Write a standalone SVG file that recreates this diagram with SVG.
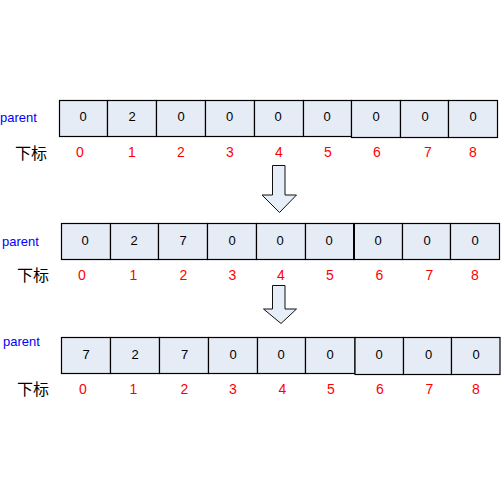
<svg xmlns="http://www.w3.org/2000/svg" width="501" height="501" viewBox="0 0 501 501">
<style>
.cell{fill:#E6ECF6;stroke:#000;stroke-width:1.2}
.v{font-family:"Liberation Sans",Arial,sans-serif;font-size:13px;fill:#000;text-anchor:middle}
.i{font-family:"Liberation Sans",Arial,sans-serif;font-size:14px;fill:#FF0000;text-anchor:middle}
.p{font-family:"Liberation Sans",Arial,sans-serif;font-size:13px;fill:#0000FF}
.k{font-family:"Liberation Sans","Noto Sans CJK SC",sans-serif;font-size:16px;fill:#000}
.arr{fill:#E6EEF8;stroke:#111;stroke-width:1}
</style>
<rect width="501" height="501" fill="#fff"/>
<g id="row1">
<text class="p" x="0" y="121.5">parent</text>
<text class="k" x="15" y="158.5">下标</text>
<g id="r1c0"><rect class="cell" x="59.5" y="100.5" width="48" height="36"/><text class="v" x="83" y="121">0</text><text class="i" x="80" y="157">0</text></g>
<g id="r1c1"><rect class="cell" x="107.5" y="100.5" width="49" height="36"/><text class="v" x="132" y="121">2</text><text class="i" x="132" y="157">1</text></g>
<g id="r1c2"><rect class="cell" x="156.5" y="100.5" width="49" height="36"/><text class="v" x="181" y="121">0</text><text class="i" x="181" y="157">2</text></g>
<g id="r1c3"><rect class="cell" x="205.5" y="100.5" width="49" height="36"/><text class="v" x="229.5" y="121">0</text><text class="i" x="230" y="157">3</text></g>
<g id="r1c4"><rect class="cell" x="254.5" y="100.5" width="49" height="36"/><text class="v" x="278" y="121">0</text><text class="i" x="279" y="157">4</text></g>
<g id="r1c5"><rect class="cell" x="303.5" y="100.5" width="48" height="36"/><text class="v" x="327" y="121">0</text><text class="i" x="328" y="157">5</text></g>
<g id="r1c6"><rect class="cell" x="351.5" y="100.5" width="49" height="37"/><text class="v" x="376" y="121">0</text><text class="i" x="377" y="157">6</text></g>
<g id="r1c7"><rect class="cell" x="400.5" y="100.5" width="48" height="37"/><text class="v" x="425" y="121">0</text><text class="i" x="428" y="157">7</text></g>
<g id="r1c8"><rect class="cell" x="448.5" y="100.5" width="49" height="37"/><text class="v" x="473" y="121">0</text><text class="i" x="473" y="157">8</text></g>
</g>
<g id="row2">
<text class="p" x="2" y="245.5">parent</text>
<text class="k" x="17" y="280.5">下标</text>
<g id="r2c0"><rect class="cell" x="61.5" y="223.5" width="49" height="36"/><text class="v" x="85" y="244.5">0</text><text class="i" x="82" y="279.5">0</text></g>
<g id="r2c1"><rect class="cell" x="110.5" y="223.5" width="48" height="36"/><text class="v" x="134" y="244.5">2</text><text class="i" x="133.5" y="279.5">1</text></g>
<g id="r2c2"><rect class="cell" x="158.5" y="223.5" width="49" height="36"/><text class="v" x="183" y="244.5">7</text><text class="i" x="183.5" y="279.5">2</text></g>
<g id="r2c3"><rect class="cell" x="207.5" y="223.5" width="49" height="36"/><text class="v" x="232" y="244.5">0</text><text class="i" x="232.5" y="279.5">3</text></g>
<g id="r2c4"><rect class="cell" x="256.5" y="223.5" width="49" height="36"/><text class="v" x="280" y="244.5">0</text><text class="i" x="281" y="279.5">4</text></g>
<g id="r2c5"><rect class="cell" x="305.5" y="223.5" width="48.5" height="36"/><text class="v" x="329" y="244.5">0</text><text class="i" x="330" y="279.5">5</text></g>
<g id="r2c6"><rect class="cell" x="354" y="223.5" width="48.5" height="36"/><line x1="354" y1="223.5" x2="354" y2="259.5" stroke="#000" stroke-width="2"/><text class="v" x="378" y="244.5">0</text><text class="i" x="379.5" y="279.5">6</text></g>
<g id="r2c7"><rect class="cell" x="402.5" y="223.5" width="48" height="36"/><text class="v" x="427" y="244.5">0</text><text class="i" x="429.5" y="279.5">7</text></g>
<g id="r2c8"><rect class="cell" x="450.5" y="223.5" width="49" height="36"/><text class="v" x="475" y="244.5">0</text><text class="i" x="475" y="279.5">8</text></g>
</g>
<g id="row3">
<text class="p" x="3" y="345.5">parent</text>
<text class="k" x="17" y="394.5">下标</text>
<g id="r3c0"><rect class="cell" x="61.5" y="337.5" width="49" height="36"/><text class="v" x="86" y="359">7</text><text class="i" x="83" y="393.5">0</text></g>
<g id="r3c1"><rect class="cell" x="110.5" y="337.5" width="49" height="36"/><text class="v" x="135" y="359">2</text><text class="i" x="133.5" y="393.5">1</text></g>
<g id="r3c2"><rect class="cell" x="159.5" y="337.5" width="49" height="36"/><text class="v" x="184.5" y="359">7</text><text class="i" x="184.5" y="393.5">2</text></g>
<g id="r3c3"><rect class="cell" x="208.5" y="337.5" width="49" height="36"/><text class="v" x="233" y="359">0</text><text class="i" x="233" y="393.5">3</text></g>
<g id="r3c4"><rect class="cell" x="257.5" y="337.5" width="48" height="36"/><text class="v" x="281" y="359">0</text><text class="i" x="282.5" y="393.5">4</text></g>
<g id="r3c5"><rect class="cell" x="305.5" y="337.5" width="49.5" height="36"/><text class="v" x="330" y="359">0</text><text class="i" x="331" y="393.5">5</text></g>
<g id="r3c6"><rect class="cell" x="355" y="337.5" width="48.5" height="37"/><text class="v" x="379" y="359">0</text><text class="i" x="380" y="393.5">6</text></g>
<g id="r3c7"><rect class="cell" x="403.5" y="337.5" width="48" height="37"/><text class="v" x="428.5" y="359">0</text><text class="i" x="429.5" y="393.5">7</text></g>
<g id="r3c8"><rect class="cell" x="451.5" y="337.5" width="48.5" height="37"/><text class="v" x="476" y="359">0</text><text class="i" x="476" y="393.5">8</text></g>
</g>
<g id="connectors">
<polygon class="arr" points="272.5,165.5 285,165.5 285,195 296.5,195 279.5,212.5 262,195 272.5,195"/>
<polygon class="arr" points="272.5,285.5 285,285.5 285,309 296.5,309 281,323.5 263.5,309 272.5,309"/>
</g>
</svg>
